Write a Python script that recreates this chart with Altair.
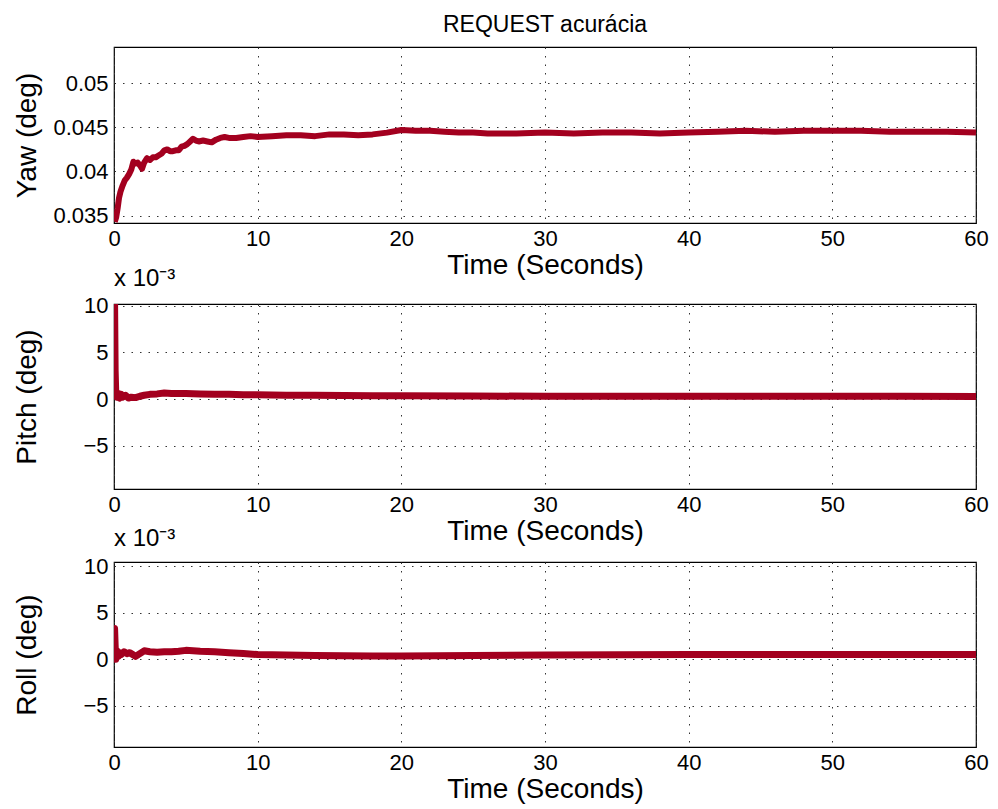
import altair as alt
import pandas as pd

RED = "#a3001f"
FONT = "Liberation Sans"

# ---- data ----
time_ticks = [0, 10, 20, 30, 40, 50, 60]

yaw_t = [0.05, 0.15, 0.25, 0.35, 0.45, 0.6, 0.75, 0.9, 1.05, 1.2, 1.35, 1.5, 1.65, 1.8,
         1.95, 2.1, 2.3, 2.5, 2.7, 2.9, 3.1, 3.3, 3.5, 3.7, 3.9, 4.1, 4.3, 4.5, 4.7, 4.9,
         5.1, 5.3, 5.5, 5.7, 5.9, 6.2, 6.5, 6.8, 7.1, 7.4, 7.7, 8.0, 8.5, 9.0, 9.5, 10,
         11, 12, 13, 14, 15, 16, 17, 18, 19, 20, 21, 22, 23, 24, 25, 26, 28, 30, 32, 34,
         36, 38, 40, 42, 44, 46, 48, 50, 52, 54, 56, 58, 60]
yaw_v = [0.0343, 0.0348, 0.0358, 0.0370, 0.0377, 0.0384, 0.0390, 0.0393, 0.0397, 0.0402,
         0.0411, 0.0409, 0.0410, 0.0407, 0.0403, 0.0410, 0.0415, 0.0413, 0.0416, 0.0416,
         0.0418, 0.0420, 0.0424, 0.0425, 0.0423, 0.0423, 0.0424, 0.0424, 0.0428, 0.0429,
         0.0431, 0.0434, 0.0437, 0.0435, 0.0434, 0.0435, 0.0434, 0.0433, 0.0436, 0.0438,
         0.0439, 0.0438, 0.0438, 0.0439, 0.0440, 0.0439, 0.0440, 0.0441, 0.0441, 0.0440,
         0.0442, 0.0442, 0.0441, 0.0442, 0.0444, 0.0447, 0.0446, 0.0446, 0.0445, 0.0444,
         0.0444, 0.0443, 0.0443, 0.0444, 0.0443, 0.0444, 0.0444, 0.0443, 0.0444, 0.0445,
         0.0446, 0.0445, 0.0446, 0.0446, 0.0446, 0.0445, 0.0445, 0.0445, 0.0444]
yaw_ticks = [0.035, 0.04, 0.045, 0.05]
yaw_domain = [0.03416, 0.0541]

# pitch and roll in units of 1e-3 deg
pitch_t = [0, 0.04, 0.08, 0.12, 0.2, 0.3, 0.4, 0.5, 0.6, 0.8, 1.0, 1.2, 1.5, 1.8, 2.1, 2.5,
           3.0, 3.5, 4, 5, 6, 7, 8, 9, 10, 12, 14, 16, 18, 20, 25, 30, 35, 40, 45, 50, 55, 60]
pitch_v = [0.3, 10.2, 3.0, 0.8, 0.2, 0.6, 0.1, 0.5, 0.2, 0.4, 0.1, 0.2, 0.15, 0.3, 0.4, 0.5,
           0.55, 0.65, 0.6, 0.6, 0.55, 0.5, 0.5, 0.45, 0.45, 0.4, 0.4, 0.38, 0.35, 0.35, 0.32,
           0.3, 0.3, 0.3, 0.3, 0.3, 0.3, 0.28]
pitch_domain = [-9.66, 10.2]

roll_t = [0, 0.04, 0.08, 0.12, 0.2, 0.3, 0.4, 0.5, 0.7, 0.9, 1.1, 1.3, 1.5, 1.8, 2.1, 2.5, 3,
          3.5, 4, 4.5, 5, 5.5, 6, 7, 8, 9, 10, 12, 14, 16, 18, 20, 25, 30, 35, 40, 45, 50, 55, 60]
roll_v = [0.5, 3.3, 1.5, 0.0, 0.9, 0.3, 0.7, 0.5, 0.8, 0.6, 0.7, 0.5, 0.3, 0.6, 0.9, 0.8, 0.75,
          0.8, 0.8, 0.85, 0.95, 0.9, 0.85, 0.8, 0.7, 0.6, 0.5, 0.45, 0.4, 0.38, 0.35, 0.35, 0.4,
          0.45, 0.48, 0.5, 0.5, 0.5, 0.5, 0.5]
roll_domain = [-9.45, 10.46]
small_ticks = [-5, 0, 5, 10]

W = 862


def panel(t, v, ytitle, domain, ticks, fmt, height, title, sw):
    df = pd.DataFrame({"t": t, "v": v})
    x = alt.X("t:Q",
              scale=alt.Scale(domain=[0, 60], nice=False, zero=False),
              axis=alt.Axis(values=time_ticks, title="Time (Seconds)", format="d",
                            labelPadding=5, labelFlush=False,
                            titleBaseline="alphabetic", titleY=50))
    y = alt.Y("v:Q",
              scale=alt.Scale(domain=domain, nice=False, zero=False),
              axis=alt.Axis(values=ticks, title=ytitle, format=fmt, labelPadding=6,
                            labelFlush=False, titleBaseline="alphabetic", titleX=-79))
    return (alt.Chart(df, title=title)
            .mark_line(color=RED, strokeWidth=sw, clip=True, strokeJoin="round")
            .encode(x=x, y=y)
            .properties(width=W, height=height))


p1 = panel(yaw_t, yaw_v, "Yaw (deg)", yaw_domain, yaw_ticks, ".3~f", 176,
           alt.Title("REQUEST acurácia", fontSize=23, fontWeight="normal", font=FONT,
                     anchor="middle", frame="group", offset=10), 6)
p2 = panel(pitch_t, pitch_v, "Pitch (deg)", pitch_domain, small_ticks, "d", 185,
           alt.Title("x 10⁻³", fontSize=24, fontWeight="normal", font=FONT,
                     anchor="start", frame="group", offset=4), 7)
p3 = panel(roll_t, roll_v, "Roll (deg)", roll_domain, small_ticks, "d", 185,
           alt.Title("x 10⁻³", fontSize=24, fontWeight="normal", font=FONT,
                     anchor="start", frame="group", offset=4), 7)

chart = (alt.vconcat(p1, alt.vconcat(p2, p3, spacing=-20), spacing=-14)
         .properties(padding={"left": 4, "top": 5, "right": 0, "bottom": 0},
                     background="white")
         .configure_view(stroke="black", strokeWidth=1.2)
         .configure_axis(grid=True, gridColor="#333", gridDash=[1.5, 7], gridWidth=1,
                         gridOpacity=1, ticks=False, tickSize=0, domain=False,
                         labelFont=FONT, labelFontSize=22, labelColor="black",
                         titleFont=FONT, titleFontSize=28, titleFontWeight="normal",
                         titleColor="black")
         .configure_title(color="black"))

chart.save("out.html", embed_options={"renderer": "svg", "actions": False})
